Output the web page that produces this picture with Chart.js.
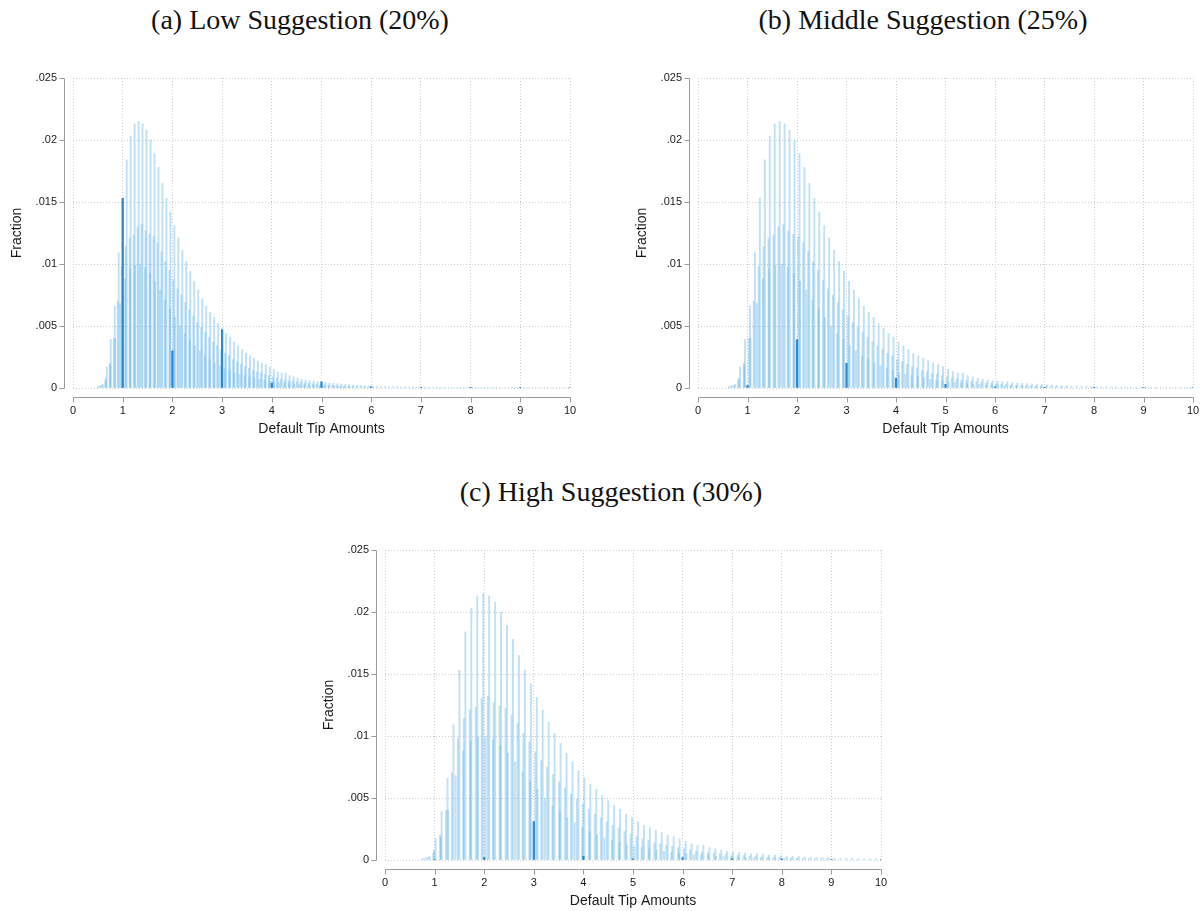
<!DOCTYPE html>
<html><head><meta charset="utf-8">
<script src="https://cdn.jsdelivr.net/npm/chart.js@4.4.1/dist/chart.umd.min.js"></script>
<style>
html,body{margin:0;padding:0;background:#fff;width:1202px;height:911px;overflow:hidden;position:relative;}
.ttl{position:absolute;font-family:'Liberation Serif','Times New Roman',serif;font-size:28px;color:#111;text-align:center;line-height:32px;white-space:nowrap;}
canvas{position:absolute;}
</style></head><body>
<div class="ttl" id="t0" style="left:0px;width:600px;top:4px"></div>
<div class="ttl" id="t1" style="left:625px;width:596px;top:4px"></div>
<div class="ttl" id="t2" style="left:311px;width:600px;top:476px"></div>
<canvas id="c0" width="600" height="390" style="left:0px;top:60px"></canvas>
<canvas id="c1" width="577" height="390" style="left:625px;top:60px"></canvas>
<canvas id="c2" width="600" height="390" style="left:312px;top:532px"></canvas>
<script>
// ---------------- DATA ----------------
const panelTitles = ['(a) Low Suggestion (20%)', '(b) Middle Suggestion (25%)', '(c) High Suggestion (30%)'];
const tipRates = [0.20, 0.25, 0.30];           // default tip = rate x fare
const xTickLabels = ['0','1','2','3','4','5','6','7','8','9','10'];
const yTickLabels = ['0','.005','.01','.015','.02','.025'];
const xTitle = 'Default Tip Amounts';
const yTitle = 'Fraction';

// Tallest comb: fares on the 40-cent meter grid (first fare, spacing), fraction per bin
const tallFareStart = 2.60, tallFareStep = 0.40;
const tallHeights = [
0.0001,0.0003,0.0017,0.0039,0.0066,0.0109,0.0153,0.0184,0.0203,0.0213,
0.0215,0.0213,0.0208,0.0200,0.0189,0.0178,0.0165,0.0153,0.0142,0.0131,
0.0121,0.0111,0.0102,0.0094,0.0086,0.0079,0.0072,0.0066,0.0061,0.0057,
0.0052,0.0048,0.0044,0.0041,0.0037,0.0034,0.0031,0.0028,0.0026,0.0024,
0.0022,0.0020,0.0019,0.0017,0.0015,0.0013,0.0012,0.0012,0.0010,0.0009,
0.0008,0.0007,0.00065,0.0006,0.00056,0.0005,0.0005,0.00045,0.0004,0.00038,
0.00035,0.00032,0.0003,0.00028,0.00025,0.00023,0.0002,0.0002,0.00018,0.00016,
0.00015,0.00014,0.00013,0.00012,0.00011,0.0001,0.0001,0.00009,0.00008,0.00008,
0.00008,0.00007,0.00007,0.00007,0.00007,0.00006,0.00006,0.00006,0.00006,0.00006,
0.00005,0.00005,0.00005,0.00005,0.00005,0.00005,0.00005,0.00005,0.00005,0.00005,
0.00004,0.00004,0.00004,0.00004,0.00004,0.00004,0.00004,0.00004,0.00004,0.00004,
0.00004,0.00004,0.00004,0.00004,0.00004,0.00004,0.00004,0.00004,0.00004];

// Second comb (with surcharge), same meter grid shifted
const midFareStart = 2.50, midFareStep = 0.40;
const midHeights = [
0.0001,0.0002,0.0008,0.0020,0.0040,0.0070,0.0098,0.0114,0.0121,0.0123,
0.0130,0.0132,0.0127,0.0124,0.0122,0.0117,0.0110,0.0102,0.0095,0.0087,
0.0080,0.0075,0.0069,0.0063,0.0058,0.0053,0.0049,0.0045,0.0041,0.0037,
0.0034,0.0031,0.0028,0.0026,0.0023,0.0021,0.0019,0.0017,0.0016,0.0014,
0.0013,0.0012,0.0011,0.0010,0.0009,0.0008,0.0007,0.00065,0.0006,0.00055,
0.0005,0.00045,0.0004,0.00037,0.00034,0.0003,0.00028,0.00025,0.00023,0.0002,
0.00018,0.00016,0.00015,0.00014,0.00012,0.00011,0.0001,0.00009,0.00008];

// Third comb: fares on the 50-cent meter grid
const lowFareStart = 2.75, lowFareStep = 0.50;
const lowHeights = [
0.0002,0.0006,0.0018,0.0040,0.0068,0.0088,0.0096,0.0099,0.0100,0.0097,
0.0092,0.0086,0.0079,0.0071,0.0064,0.0057,0.0050,0.0044,0.0039,0.0034,
0.0030,0.0026,0.0023,0.0020,0.0018,0.0016,0.0014,0.0012,0.0011,0.0010,
0.0009,0.0008,0.0007,0.0006,0.00055,0.0005,0.00045,0.0004,0.00035,0.0003,
0.00027,0.00024,0.00021,0.00019,0.00017,0.00015,0.00013,0.00012,0.0001,0.00009,
0.00008];

// Dense background of all other cent values
const bgFareStart = 2.50, bgFareStep = 0.25;
const bgHeights = [
0.0001,0.0001,0.0002,0.0002,0.0003,0.0003,0.0004,0.0005,0.0006,0.0008,
0.0012,0.0016,0.0021,0.0026,0.0031,0.0035,0.0037,0.0039,0.0040,0.0040,
0.0040,0.0039,0.0038,0.0037,0.0036,0.0035,0.0034,0.0033,0.0032,0.0031,
0.0030,0.0029,0.0028,0.0027,0.0026,0.0025,0.0024,0.0023,0.0022,0.0021,
0.0020,0.0019,0.0018,0.0017,0.0016,0.0016,0.0015,0.0014,0.0013,0.0013,
0.0012,0.0011,0.0011,0.0010,0.0010,0.0009,0.0009,0.0008,0.0008,0.0007,
0.0007,0.0007,0.0006,0.0006,0.0006,0.0005,0.0005,0.0005,0.0004,0.0004,
0.0004,0.00035,0.00035,0.0003,0.0003,0.0003,0.00025,0.00025,0.00025,0.0002,
0.0002,0.0002,0.0002,0.00018,0.00018,0.00016,0.00016,0.00015,0.00015,0.00014,
0.00014,0.00013,0.00013,0.00012,0.00012,0.00011,0.00011,0.0001,0.0001,0.0001,
0.00009,0.00009,0.00009,0.00008,0.00008,0.00008,0.00007,0.00007,0.00007,0.00006,
0.00006];

// Whole-dollar tips (drawn darker)
const darkTips = [1,2,3,4,5,6,7,8,9,10];
const darkHeightsA = [0.0153,0.0030,0.0047,0.0004,0.0005,0.0001,0.00006,0.00006,0.00005,0.00005];
const darkHeightsB = [0.0002,0.0039,0.0020,0.0008,0.0003,0.0001,0.00006,0.00006,0.00005,0.00005];
const darkHeightsC = [0.00002,0.0002,0.0031,0.0003,0.0001,0.0002,0.0001,0.00008,0.00005,0.00005];
const darkHeights = [darkHeightsA, darkHeightsB, darkHeightsC];

// ---------------- CHART ----------------
Chart.defaults.font.family = "'Liberation Sans', Arial, Helvetica, sans-serif";
Chart.defaults.font.size = 11;
Chart.defaults.color = '#1a1a1a';

function comb(rate, start, step, heights) {
  const pts = [];
  heights.forEach((h, i) => {
    const tip = rate * (start + i * step);
    if (tip <= 10.02) pts.push({x: tip, y: h});
  });
  return pts;
}

const offsetAxes = {
  id: 'offsetAxes',
  afterDraw(chart) {
    const {ctx, chartArea} = chart;
    const xs = chart.scales.x, ys = chart.scales.y;
    ctx.save();
    ctx.strokeStyle = '#9c9c9c';
    ctx.lineWidth = 1;
    const ax = Math.round(chartArea.left - 9) + 0.5;
    const ay = Math.round(chartArea.bottom + 9) + 0.5;
    ctx.beginPath();
    ctx.moveTo(ax, Math.round(ys.getPixelForValue(ys.min)) + 0.5);
    ctx.lineTo(ax, Math.round(ys.getPixelForValue(ys.max)) + 0.5);
    ys.ticks.forEach(t => {
      const py = Math.round(ys.getPixelForValue(t.value)) + 0.5;
      ctx.moveTo(ax - 5, py); ctx.lineTo(ax, py);
    });
    ctx.moveTo(Math.round(xs.getPixelForValue(xs.min)) + 0.5, ay);
    ctx.lineTo(Math.round(xs.getPixelForValue(xs.max)) + 0.5, ay);
    xs.ticks.forEach(t => {
      const px = Math.round(xs.getPixelForValue(t.value)) + 0.5;
      ctx.moveTo(px, ay); ctx.lineTo(px, ay + 5);
    });
    ctx.stroke();
    ctx.restore();
  }
};

const light = 'rgba(110,185,232,0.44)';
const paddings = [{left:0, right:30, top:18, bottom:0}, {left:0, right:9, top:18, bottom:0}, {left:0, right:31, top:18, bottom:0}];

for (let p = 0; p < 3; p++) {
  document.getElementById('t' + p).textContent = panelTitles[p];
  const r = tipRates[p];
  const datasets = [
    {label:'whole dollars', data: darkTips.map((t, i) => ({x: t, y: darkHeights[p][i]})), backgroundColor: 'rgba(38,132,204,0.95)', barThickness: 1.6},
    {label:'tall', data: comb(r, tallFareStart, tallFareStep, tallHeights), backgroundColor: light, barThickness: 1.25},
    {label:'mid', data: comb(r, midFareStart, midFareStep, midHeights), backgroundColor: light, barThickness: 1.25},
    {label:'low', data: comb(r, lowFareStart, lowFareStep, lowHeights), backgroundColor: light, barThickness: 1.25},
    {label:'background', data: comb(r, bgFareStart, bgFareStep, bgHeights), backgroundColor: 'rgba(110,185,232,0.38)', barThickness: 'flex', barPercentage: 1, categoryPercentage: 1}
  ];
  new Chart(document.getElementById('c' + p), {
    type: 'bar',
    data: {datasets},
    options: {
      responsive: false,
      animation: false,
      devicePixelRatio: 1,
      layout: {padding: paddings[p]},
      datasets: {bar: {grouped: false, borderWidth: 0}},
      plugins: {legend: {display: false}, tooltip: {enabled: false}},
      scales: {
        x: {
          type: 'linear', min: 0, max: 10, offset: false,
          grid: {color: '#cdcdcd', lineWidth: 1, drawTicks: false, offset: false},
          border: {display: false, dash: [1, 2]},
          ticks: {stepSize: 1, padding: 16, maxRotation: 0, autoSkip: false,
                  callback: (v, i) => xTickLabels[i]},
          title: {display: true, text: xTitle, font: {size: 14}, color: '#1a1a1a', padding: {top: 0, bottom: 12}},
          afterFit: s => { s.height = 62; s.paddingLeft = 0; s.paddingRight = 0; }
        },
        y: {
          type: 'linear', min: 0, max: 0.025,
          grid: {color: '#cdcdcd', lineWidth: 1, drawTicks: false},
          border: {display: false, dash: [1, 2]},
          ticks: {stepSize: 0.005, padding: 16, autoSkip: false,
                  callback: (v, i) => yTickLabels[i]},
          title: {display: true, text: yTitle, font: {size: 14}, color: '#1a1a1a', padding: {top: 9, bottom: 0}},
          afterFit: s => { s.width = 73; s.paddingTop = 0; s.paddingBottom = 0; }
        }
      }
    },
    plugins: [offsetAxes]
  });
}
</script>
</body></html>
